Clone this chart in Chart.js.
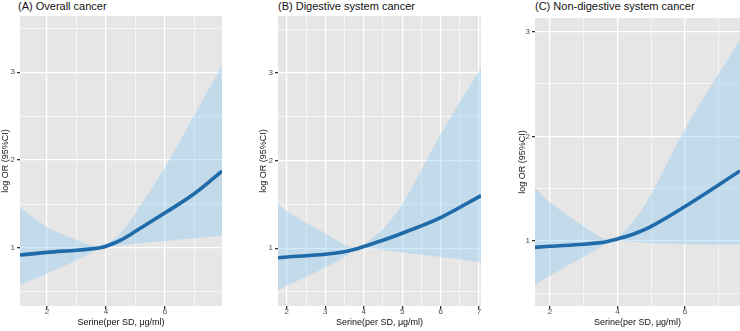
<!DOCTYPE html>
<html>
<head>
<meta charset="utf-8">
<script src="https://cdn.jsdelivr.net/npm/chart.js@4"></script>
<style>
body{margin:0;background:#fff;width:740px;height:331px;overflow:hidden;position:relative;font-family:"Liberation Sans",Arial,sans-serif}
.box{position:absolute;top:0;height:331px}
.ttl{position:absolute;top:0;font-size:11px;color:#111;white-space:nowrap}
</style>
</head>
<body>
<div class="ttl" style="left:18px">(A) Overall cancer</div>
<div class="ttl" style="left:278px">(B) Digestive system cancer</div>
<div class="ttl" style="left:535px">(C) Non-digestive system cancer</div>
<div class="box" style="left:0;width:240px"><canvas id="cA"></canvas></div>
<div class="box" style="left:258px;width:230px"><canvas id="cB"></canvas></div>
<div class="box" style="left:517px;width:223px"><canvas id="cC"></canvas></div>
<script>
// data
const xA=[1.085,2,3,3.5,3.75,4,4.5,5,6,7,7.93]
const fitA=[0.92,0.95,0.975,0.99,1.0,1.02,1.09,1.19,1.4,1.62,1.875]
const upA=[1.46,1.24,1.09,1.03,1.01,1.04,1.17,1.4,1.92,2.52,3.08]
const loA=[0.58,0.71,0.86,0.95,0.99,1.0,1.03,1.05,1.08,1.11,1.14]

const xB=[1.77,2,3,3.5,3.8,4,4.5,5,6,7.05]
const fitB=[0.89,0.9,0.93,0.96,0.99,1.02,1.09,1.17,1.35,1.6]
const upB=[1.51,1.42,1.17,1.04,1.0,1.04,1.22,1.5,2.3,3.06]
const loB=[0.52,0.57,0.78,0.9,0.98,1.0,0.98,0.95,0.9,0.84]

const xC=[1.556,2,3,3.5,3.75,4,4.5,5,6,7.63]
const fitC=[0.94,0.95,0.97,0.985,1.0,1.02,1.07,1.14,1.33,1.67]
const upC=[1.51,1.37,1.14,1.04,1.01,1.04,1.2,1.45,2.07,2.92]
const loC=[0.58,0.67,0.85,0.94,0.99,1.0,0.99,0.98,0.97,0.965]

// ticks (major with labels, minor gridlines)
const yTicks=[0.5,1,1.5,2,2.5,3,3.5]
const yLabels=[1,2,3]
const xTicksAC=[1,2,3,4,5,6,7]
const xLabelsAC=[2,4,6]
const xTicksB=[1.5,2,2.5,3,3.5,4,4.5,5,5.5,6,6.5,7]
const xLabelsB=[2,3,4,5,6,7]

const lineCol="#1f6aa8"
const bandCol="rgba(139,201,241,0.38)"

function pts(xs,ys){return xs.map((x,i)=>({x:x,y:ys[i]}))}

function makeChart(id,xs,fit,up,lo,xr,yr,xt,xl,yw,padR,padT){
let isMaj=(v,l)=>l.some(a=>Math.abs(a-v)<1e-6)
new Chart(document.getElementById(id),{
type:"line",
data:{datasets:[
{data:pts(xs,fit),borderColor:lineCol,borderWidth:3.6,pointRadius:0,fill:false,order:0,tension:0.35},
{data:pts(xs,lo),borderWidth:0,pointRadius:0,fill:false,order:2,tension:0.35},
{data:pts(xs,up),borderWidth:0,pointRadius:0,fill:"-1",backgroundColor:bandCol,order:1,tension:0.35}
]},
options:{
responsive:true,maintainAspectRatio:false,animation:false,
layout:{padding:{left:0,right:padR,top:padT,bottom:0}},
plugins:{legend:{display:false},tooltip:{enabled:false}},
scales:{
x:{type:"linear",min:xr[0],max:xr[1],
afterBuildTicks:s=>{s.ticks=xt.map(v=>({value:v}))},
afterFit:s=>{s.height=25},
border:{display:false},
grid:{color:"#fff",lineWidth:c=>isMaj(c.tick.value,xl)?1.3:0.6,tickLength:3,
tickColor:c=>isMaj(c.tick.value,xl)?"#333":"rgba(0,0,0,0)"},
ticks:{padding:-2,maxRotation:0,autoSkip:false,color:"#4d4d4d",font:{size:8,family:"Liberation Sans"},
callback:v=>isMaj(v,xl)?String(v):""},
title:{display:true,text:"Serine(per SD, μg/ml)",color:"#111",font:{size:9,family:"Liberation Sans"},padding:{top:0,bottom:3}}},
y:{type:"linear",min:yr[0],max:yr[1],
afterBuildTicks:s=>{s.ticks=yTicks.filter(v=>v>yr[0]&&v<yr[1]).map(v=>({value:v}))},
afterFit:s=>{s.width=yw},
border:{display:false},
grid:{color:"#fff",lineWidth:c=>isMaj(c.tick.value,yLabels)?1.3:0.6,tickLength:3,
tickColor:c=>isMaj(c.tick.value,yLabels)?"#333":"rgba(0,0,0,0)"},
ticks:{padding:2,autoSkip:false,color:"#4d4d4d",font:{size:8,family:"Liberation Sans"},
callback:v=>isMaj(v,yLabels)?String(v):""},
title:{display:true,text:"log OR (95%CI)",color:"#111",font:{size:9,family:"Liberation Sans"},padding:{top:0,bottom:0}}}
}
},
plugins:[{
id:"bg",
beforeDraw:c=>{
let a=c.chartArea,g=c.ctx
g.save()
g.fillStyle="#e6e6e6"
g.fillRect(a.left,a.top,a.right-a.left,a.bottom-a.top)
g.restore()
}
}]
})
}

makeChart("cA",xA,fitA,upA,loA,[1.085,7.93],[0.34,3.64],xTicksAC,xLabelsAC,20,18,16)
makeChart("cB",xB,fitB,upB,loB,[1.77,7.05],[0.34,3.65],xTicksB,xLabelsB,20,7,16)
makeChart("cC",xC,fitC,upC,loC,[1.556,7.63],[0.38,3.13],xTicksAC,xLabelsAC,18,0,18)
</script>
</body>
</html>
